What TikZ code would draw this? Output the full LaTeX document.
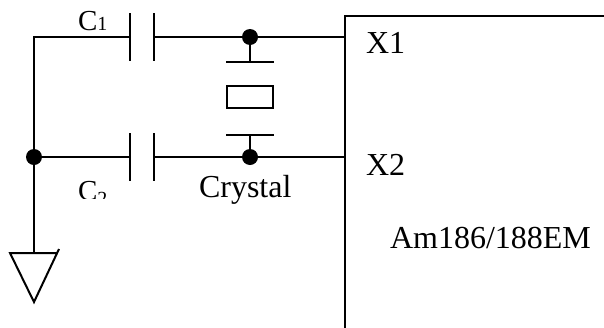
\documentclass[tikz,border=0pt]{standalone}
\usepackage{fontspec}
\setmainfont{Liberation Serif}
\usetikzlibrary{positioning}
\tikzset{
  dot/.style={circle,fill,inner sep=0pt,minimum size=16pt},
  lbl/.style={inner sep=0pt,anchor=base west,font=\fontsize{32}{36}\selectfont},
  caplbl/.style={inner sep=0pt,anchor=base west,font=\fontsize{29}{32}\selectfont},
  xtalbox/.style={draw,rectangle,inner sep=0pt,minimum width=46pt,minimum height=22pt}
}
\newcommand{\capsub}[1]{{\fontsize{20}{20}\selectfont #1}}
\begin{document}
\begin{tikzpicture}[x=1pt,y=-1pt,line width=2pt]
  \useasboundingbox (0,0) rectangle (604,327);
  % chip outline
  \coordinate (chipR) at (620,16);
  \coordinate (chipB) at (345,340);
  \draw (chipR) -| (chipB);
  \coordinate (x1) at (345,37);
  \coordinate (x2) at (345,157);
  \node[lbl] (x1lbl) at (365,53) {X1};
  \node[lbl] (x2lbl) at (365,175) {X2};
  \node[lbl] (chip) at (389,248) {Am186/188EM};
  % junctions
  \coordinate (corner) at (34,37);
  \node[dot] (jl) at (34,157) {};
  \node[dot] (j1) at (250,37) {};
  \node[dot] (j2) at (250,157) {};
  % capacitors
  \coordinate (c1a) at (130,37);
  \coordinate (c1b) at (154,37);
  \coordinate (c2a) at (130,157);
  \coordinate (c2b) at (154,157);
  \foreach \p in {c1a,c1b,c2a,c2b}
    \draw ([yshift=24pt]\p) -- ([yshift=-24pt]\p);
  \draw (c1a) -- (corner) -- (jl.center) -- (c2a);
  \draw (c1b) -- (j1.center) -- (x1);
  \draw (c2b) -- (j2.center) -- (x2);
  \node[caplbl] (c1lbl) at (77,30) {C\capsub{1}};
  \begin{scope}
    \clip (0,0) rectangle (345,198);
    \node[caplbl] (c2lbl) at (77,200) {C\raisebox{-5pt}{\capsub{2}}};
  \end{scope}
  % crystal
  \node[xtalbox] (xtal) at (250,97) {};
  \coordinate (p1) at (250,62);
  \coordinate (p2) at (250,134.5);
  \draw ([xshift=-24pt]p1) -- ([xshift=24pt]p1);
  \draw ([xshift=-24pt]p2) -- ([xshift=24pt]p2);
  \draw (j1.center) -- (p1);
  \draw (j2.center) -- (p2);
  \node[lbl] (xtallbl) at (198,197) {Crystal};
  % ground
  \coordinate (gnd) at (34,253);
  \coordinate (gl) at (10,253);
  \coordinate (gr) at (57,253);
  \coordinate (gtip) at (34,302);
  \coordinate (gext) at (59,249);
  \draw (jl.center) -- (gnd);
  \draw (gr) -- (gl) -- (gtip) -- (gext);
\end{tikzpicture}
\end{document}
